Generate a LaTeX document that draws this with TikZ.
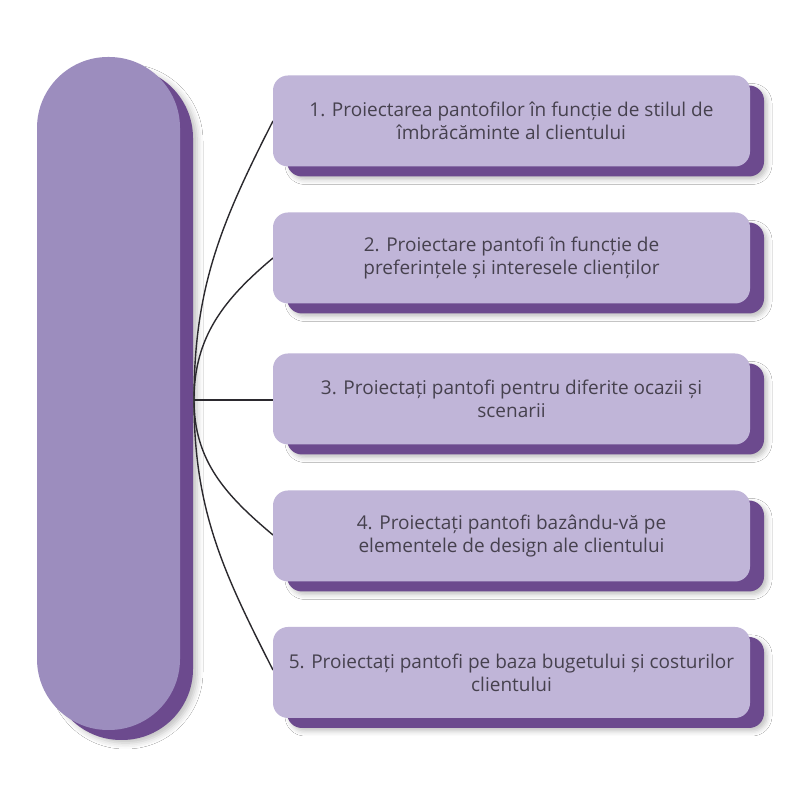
\documentclass[tikz,border=0pt]{standalone}
\usepackage{fontspec}
\setmainfont{Open Sans}
\usetikzlibrary{shadows,shadows.blur}

\definecolor{pillface}{HTML}{9C8DBE}
\definecolor{cardface}{HTML}{C0B5D8}
\definecolor{deepplum}{HTML}{6C4A8E}
\definecolor{inktext}{HTML}{46414E}
\definecolor{linkdark}{HTML}{2B292E}

\begin{document}
\begin{tikzpicture}[x=1pt,y=1pt,
  pill/.style={fill=pillface, rounded corners=71pt, minimum width=143pt, minimum height=673pt, inner sep=0pt,
    blur shadow={shadow xshift=17pt, shadow yshift=-13pt, shadow blur radius=6pt, shadow opacity=25},
    copy shadow={shadow xshift=13pt, shadow yshift=-10pt, fill=deepplum, draw=none}},
  card/.style={fill=cardface, rounded corners=15pt, minimum width=477pt, minimum height=91pt, inner sep=0pt,
    align=center, text=inktext, font=\fontsize{19}{23}\selectfont,
    blur shadow={shadow xshift=17pt, shadow yshift=-13pt, shadow blur radius=5pt, shadow opacity=25},
    copy shadow={shadow xshift=14pt, shadow yshift=-10pt, fill=deepplum, draw=none}},
  link/.style={draw=linkdark, line width=1.4pt}]
\useasboundingbox (0,0) rectangle (800,800);
\fill[white] (0,0) rectangle (800,800);

% left bar
\node[pill] (bar) at (108.5,406.5) {};
\coordinate (hub) at (194,400);

% connectors
\draw[link] (hub) to[out=90,in=243] (273,679);
\draw[link] (hub) to[out=90,in=220] (273,542);
\draw[link] (hub) -- (273,400);
\draw[link] (hub) to[out=270,in=140] (273,265);
\draw[link] (hub) to[out=270,in=117] (273,130);

% cards
\node[card] (c1) at (511.5,679) {1. Proiectarea pantofilor în funcție de stilul de\\îmbrăcăminte al clientului};
\node[card] (c2) at (511.5,542) {2. Proiectare pantofi în funcție de\\preferințele și interesele clienților};
\node[card] (c3) at (511.5,401) {3. Proiectați pantofi pentru diferite ocazii și\\scenarii};
\node[card] (c4) at (511.5,264) {4. Proiectați pantofi bazându-vă pe\\elementele de design ale clientului};
\node[card] (c5) at (511.5,127.5) {5. Proiectați pantofi pe baza bugetului și costurilor\\clientului};
\end{tikzpicture}
\end{document}
